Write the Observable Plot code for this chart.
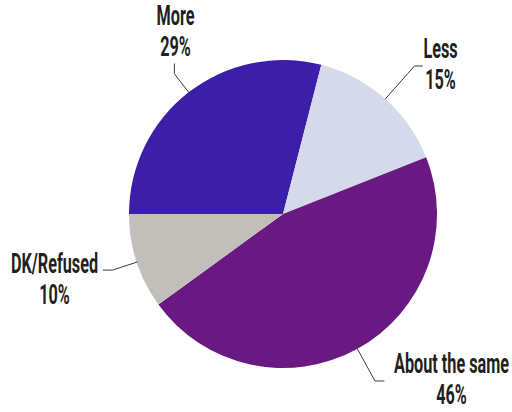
<!DOCTYPE html>
<html><head><meta charset="utf-8">
<script src="https://cdn.jsdelivr.net/npm/d3@7"></script>
<script src="https://cdn.jsdelivr.net/npm/@observablehq/plot@0.6"></script>
<style>body{margin:0;background:#fff}</style>
</head><body><div id="chart"></div>
<script>
// data
const categories = ["More", "Less", "About the same", "DK/Refused"];
const values = [29, 15, 46, 10];
const labelTexts = ["More\n29%", "Less\n15%", "About the same\n46%", "DK/Refused\n10%"];
const colors = ["#3c1fa8", "#d4daeb", "#6a1983", "#c2beb9"];

// layout (pixel space)
const W = 512, H = 412;
const center = [283, 214], radius = 154;
const elbowR = [178, 198, 190, 180];
const tails = [[0, -10], [8, 0], [9, 0], [-9, 0]];
const labelAnchors = [[175, 3], [440, 36], [451, 351], [54, 251]];

const data = categories.map((c, i) => ({category: c, value: values[i], label: labelTexts[i], color: colors[i]}));
const arcs = d3.pie().sort(null).value(d => d.value).startAngle(-Math.PI / 2).endAngle(1.5 * Math.PI)(data);
const polar = (a, r) => [center[0] + r * Math.sin(a), center[1] - r * Math.cos(a)];

const leaders = arcs.flatMap((a, i) => {
  const m = (a.startAngle + a.endAngle) / 2;
  const p0 = polar(m, radius), p1 = polar(m, elbowR[i]);
  const p2 = [p1[0] + tails[i][0], p1[1] + tails[i][1]];
  return [p0, p1, p2].map(p => ({x: p[0], y: p[1], k: categories[i]}));
});
const labelRows = data.map((d, i) => ({x: labelAnchors[i][0], y: labelAnchors[i][1], label: d.label}));

const pieMark = (index, scales) => {
  const cx = scales.x(center[0]), cy = scales.y(center[1]);
  const r = scales.x(center[0] + radius) - cx;
  const arc = d3.arc().innerRadius(0).outerRadius(r);
  const g = d3.create("svg:g").attr("transform", `translate(${cx},${cy})`);
  g.selectAll("path").data(arcs).join("path").attr("d", arc).attr("fill", d => d.data.color);
  return g.node();
};

const chart = Plot.plot({
  width: W, height: H, margin: 0,
  x: {domain: [0, W], range: [0, W], axis: null},
  y: {domain: [0, H], range: [0, H], axis: null},
  marks: [
    pieMark,
    Plot.line(leaders, {x: "x", y: "y", z: "k", stroke: "#3a3a3a", strokeWidth: 1}),
    Plot.text(labelRows, {x: "x", y: "y", text: "label", textAnchor: "middle", lineAnchor: "top",
      fontSize: 28, fontWeight: 700, fontFamily: "Roboto", fill: "#231f20", lineHeight: 1.1})
  ]
});
chart.querySelectorAll('g[aria-label="text"] text').forEach(t => {
  t.setAttribute("transform", (t.getAttribute("transform") || "") + " scale(0.58,1)");
});
document.getElementById("chart").appendChild(chart);
</script>
</body></html>
